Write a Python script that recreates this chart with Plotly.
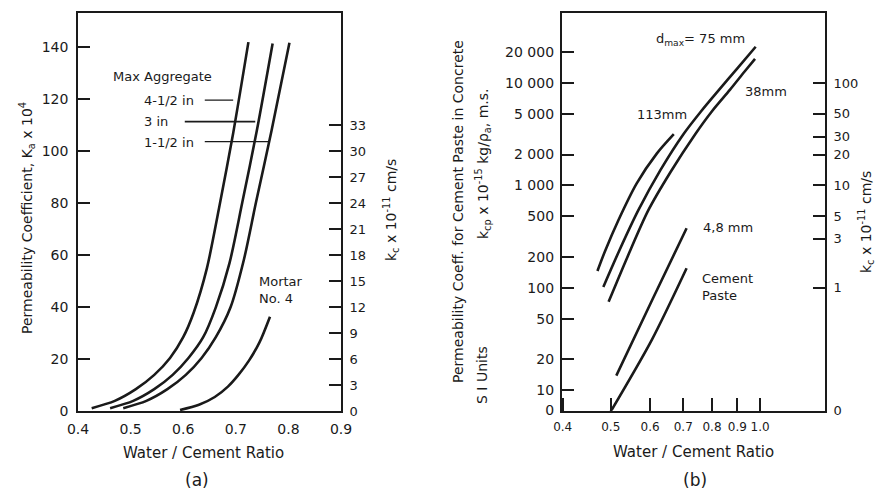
import numpy as np
import plotly.graph_objects as go

# ---------------- data: panel (a) ----------------
wc_45in = [0.426, 0.47, 0.51, 0.545, 0.575, 0.60, 0.62, 0.645, 0.668, 0.695, 0.724]
kq_45in = [1.2, 4, 8.5, 14, 20.5, 28.5, 38, 55, 78, 107, 142]
wc_3in = [0.461, 0.505, 0.545, 0.58, 0.61, 0.638, 0.662, 0.688, 0.712, 0.74, 0.770]
kq_3in = [1.2, 4, 8.5, 14, 20.5, 28.5, 40, 57, 80, 108, 141.5]
wc_15in = [0.486, 0.53, 0.57, 0.605, 0.635, 0.662, 0.69, 0.715, 0.738, 0.768, 0.802]
kq_15in = [1.2, 4, 8.5, 14, 20.5, 28.5, 40, 58, 80, 108, 141.8]
wc_mortar = [0.594, 0.63, 0.66, 0.685, 0.705, 0.725, 0.745, 0.765]
kq_mortar = [0.5, 2.5, 5.5, 9.5, 14, 19.5, 26.5, 36.4]

a_xticks = [0.4, 0.5, 0.6, 0.7, 0.8, 0.9]
a_yticks = [0, 20, 40, 60, 80, 100, 120, 140]
a_y2ticks = [0, 3, 6, 9, 12, 15, 18, 21, 24, 27, 30, 33]

# ---------------- data: panel (b) ----------------
wc_113 = [0.470, 0.487, 0.518, 0.564, 0.619, 0.670]
k_113 = [146, 229, 457, 1047, 2042, 3160]
wc_75 = [0.483, 0.52, 0.568, 0.63, 0.70, 0.76, 0.824, 0.90, 0.98]
k_75 = [102, 230, 569, 1416, 3142, 5270, 8413, 13900, 22550]
wc_38 = [0.495, 0.54, 0.595, 0.66, 0.74, 0.80, 0.87, 0.93, 0.977]
k_38 = [73, 199, 569, 1350, 3160, 5300, 8600, 12850, 17200]
wc_48 = [0.513, 0.609, 0.711]
k_48 = [13.9, 80, 381]
wc_cp = [0.500, 0.605, 0.711]
k_cp = [6.2, 31, 155]

b_xticks = [0.4, 0.5, 0.6, 0.7, 0.8, 0.9, 1.0]
b_xlabels = ["0.4", "0.5", "0.6", "0.7", "0.8", "0.9", "1.0"]
b_yticks = [6.4, 10, 20, 50, 100, 200, 500, 1000, 2000, 5000, 10000, 20000, 50000]
b_ylabels = ["0", "10", "20", "50", "100", "200", "500", "1 000", "2 000",
             "5 000", "10 000", "20 000", "50 000"]
b_y2ticks = [0.064, 1, 3, 5, 10, 20, 30, 50, 100]
b_y2labels = ["0", "1", "3", "5", "10", "20", "30", "50", "100"]

FONT = "DejaVu Sans"
INK = "#1a1a1a"
W, H = 878, 493

def px(x):
    return x / W

def py(y):
    return 1 - y / H

fig = go.Figure()
line = dict(color=INK, width=2.6, shape="spline", smoothing=0.8)

for xs, ys in [(wc_45in, kq_45in), (wc_3in, kq_3in), (wc_15in, kq_15in), (wc_mortar, kq_mortar)]:
    fig.add_trace(go.Scatter(x=xs, y=ys, mode="lines", line=line,
                             xaxis="x", yaxis="y", showlegend=False, hoverinfo="skip"))

for xs, ys in [(wc_113, k_113), (wc_75, k_75), (wc_38, k_38), (wc_48, k_48), (wc_cp, k_cp)]:
    fig.add_trace(go.Scatter(x=xs, y=ys, mode="lines", line=line,
                             xaxis="x2", yaxis="y3", showlegend=False, hoverinfo="skip"))

# empty traces so the secondary (right-hand) scales are drawn
fig.add_trace(go.Scatter(x=[None], y=[None], xaxis="x", yaxis="y2", mode="lines",
                         showlegend=False, hoverinfo="skip"))
fig.add_trace(go.Scatter(x=[None], y=[None], xaxis="x2", yaxis="y4", mode="lines",
                         showlegend=False, hoverinfo="skip"))

tickfont = dict(family=FONT, size=14, color=INK)
axline = dict(showline=True, linecolor=INK, linewidth=1.6, showgrid=False,
              zeroline=False, automargin=False)

fig.update_layout(
    width=W, height=H,
    margin=dict(l=0, r=0, t=0, b=0, autoexpand=False),
    paper_bgcolor="white", plot_bgcolor="white",
    font=dict(family=FONT, color=INK),
    xaxis=dict(domain=[px(78), px(341)], range=[0.4, 0.9], anchor="y",
               tickvals=a_xticks, ticktext=[f"{v:.1f}" for v in a_xticks],
               ticks="", mirror=True, tickangle=0, ticklabelstandoff=4,
               tickfont=tickfont, **axline),
    yaxis=dict(domain=[py(411.3), py(13.3)], range=[0, 153.1], anchor="x",
               tickvals=a_yticks, ticks="inside", ticklen=12, tickwidth=1.6,
               ticklabelstandoff=5, tickcolor=INK, tickfont=tickfont, **axline),
    yaxis2=dict(overlaying="y", side="right", anchor="x", range=[0, 153.1 * 0.3],
                tickvals=a_y2ticks, ticks="inside", ticklen=12, tickwidth=1.6,
                ticklabelstandoff=4,
                tickcolor=INK, tickfont=dict(family=FONT, size=13, color=INK), **axline),
    xaxis2=dict(domain=[px(561.7), px(825)], type="log", range=[-0.4, 0.131], anchor="y3",
                tickvals=b_xticks, ticktext=b_xlabels, ticks="inside", ticklen=13,
                tickwidth=1.6, tickcolor=INK, mirror=True, tickangle=0, ticklabelstandoff=4,
                tickfont=dict(family=FONT, size=12, color=INK), **axline),
    yaxis3=dict(domain=[py(410.7), py(13.3)], type="log", range=[0.80, 4.68], anchor="x2",
                tickvals=b_yticks, ticktext=b_ylabels, ticks="inside", ticklen=12,
                tickwidth=1.6, tickcolor=INK, ticklabelstandoff=3, tickfont=tickfont, **axline),
    yaxis4=dict(overlaying="y3", side="right", anchor="x2", type="log", range=[-1.2, 2.68],
                tickvals=b_y2ticks, ticktext=b_y2labels, ticks="inside", ticklen=12,
                tickwidth=1.6, tickcolor=INK, ticklabelstandoff=4,
                tickfont=dict(family=FONT, size=13, color=INK), **axline),
)

ann = []
def paper_text(text, x, y, size=14, angle=0):
    ann.append(dict(text=text, x=px(x), y=py(y), xref="paper", yref="paper",
                    showarrow=False, textangle=angle, xanchor="center", yanchor="middle",
                    font=dict(family=FONT, size=size, color=INK)))

# axis titles
paper_text("Permeability Coefficient, K<sub>a</sub> x 10<sup>4</sup>", 27, 218, 14, -90)
paper_text("k<sub>c</sub> x 10<sup>-11</sup> cm/s", 391, 210, 14, -90)
paper_text("Water / Cement Ratio", 203, 453, 15)
paper_text("(a)", 197, 480, 17)
paper_text("Permeability Coeff. for Cement Paste in Concrete", 458, 212, 14, -90)
paper_text("k<sub>cp</sub> x 10<sup>-15</sup> kg/ρ<sub>a</sub>, m.s.", 483, 163, 14, -90)
paper_text("S I Units", 482, 375, 14, -90)
paper_text("k<sub>c</sub> x 10<sup>-11</sup> cm/s", 866, 222, 14, -90)
paper_text("Water / Cement Ratio", 693, 452, 15)
paper_text("(b)", 695, 480, 17)

def data_text(text, x, y, xref, yref, xanchor="center", size=13):
    ann.append(dict(text=text, x=x, y=y, xref=xref, yref=yref, showarrow=False,
                    xanchor=xanchor, yanchor="middle", align="left",
                    font=dict(family=FONT, size=size, color=INK)))

# panel (a) labels
data_text("Max Aggregate", 0.56, 128.6, "x", "y")
data_text("4-1/2 in", 0.522, 119.7, "x", "y", "left")
data_text("3 in", 0.522, 111.3, "x", "y", "left")
data_text("1-1/2 in", 0.522, 103.5, "x", "y", "left")
data_text("Mortar<br>No. 4", 0.74, 46.5, "x", "y", "left")

# panel (b) labels (log axes -> log10 positions)
data_text("d<sub>max</sub>= 75 mm", np.log10(0.757), np.log10(26800), "x2", "y3")
data_text("38mm", np.log10(1.028), np.log10(8200), "x2", "y3")
data_text("113mm", np.log10(0.634), np.log10(4870), "x2", "y3")
data_text("4,8 mm", np.log10(0.862), np.log10(386), "x2", "y3")
data_text("Cement<br>Paste", np.log10(0.757), np.log10(101), "x2", "y3", "left")

fig.update_layout(annotations=ann)

# leader lines in panel (a)
for x0, x1, yv, w in [(0.641, 0.695, 119.7, 1.2), (0.603, 0.737, 111.4, 1.8), (0.641, 0.763, 103.7, 1.2)]:
    fig.add_shape(type="line", x0=x0, x1=x1, y0=yv, y1=yv, xref="x", yref="y",
                  line=dict(color=INK, width=w))

fig.write_html("out.html", config={"displayModeBar": False},
               post_script="document.body.style.margin='0';document.body.style.padding='0';")
